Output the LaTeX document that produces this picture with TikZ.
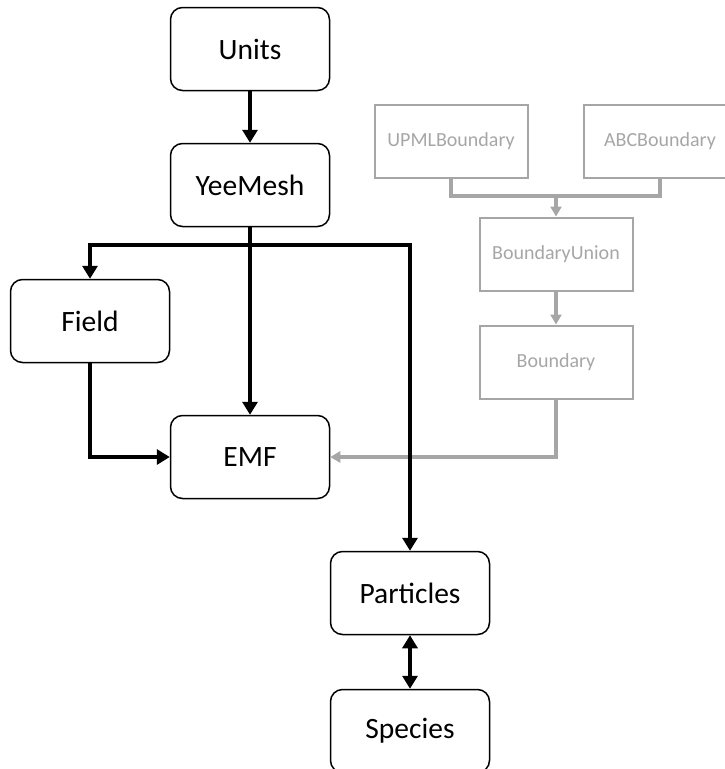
\documentclass[tikz,border=0pt]{standalone}
\usepackage{fontspec}
\setmainfont{Carlito}
\usetikzlibrary{arrows.meta}

\tikzset{
  cls/.style={draw, rounded corners=12pt, line width=1.5pt,
    minimum width=159pt, minimum height=83pt,
    font=\fontsize{29.5}{34}\selectfont},
  bnd/.style={draw=bndgray, line width=2pt, text=bndgray,
    minimum width=153pt, minimum height=73pt,
    font=\fontsize{20}{24}\selectfont},
  dep/.style={line width=4pt, -{Triangle[width=15pt,length=13pt]}},
  bdep/.style={draw=bndgray, line width=3.5pt, -{Triangle[width=11pt,length=10pt]}}
}
\definecolor{bndgray}{HTML}{A6A6A6}

\begin{document}
\begin{tikzpicture}[x=1pt, y=-1pt]
    \useasboundingbox (0,0) rectangle (725,769);
    % main classes
    \node (units) [cls] at (250,49) {Units};
    \node (yee) [cls] at (250,185) {YeeMesh};
    \node (field) [cls] at (90,321) {Field};
    \node (emf) [cls] at (250,457) {EMF};
    \node (part) [cls] at (410,593) {Particles};
    \node (spec) [cls] at (410,731) {Species};
    % boundaries
    \node (upml) [bnd] at (451,141) {UPMLBoundary};
    \node (abc) [bnd] at (660,141) {ABCBoundary};
    \node (bunion) [bnd] at (556,254) {BoundaryUnion};
    \node (bound) [bnd] at (556,362) {Boundary};
    \coordinate (bjoin) at (556,196);
    \coordinate (split) at (250,245);

    \draw[bdep, -] (upml.south) |- (bjoin) -| (abc.south);
    \draw[bdep] (bjoin) -- (bunion);
    \draw[bdep] (bunion) -- (bound);
    \draw[bdep] (bound.south) |- (emf.east);

    \draw[dep] (units) -- (yee);
    \draw[dep] (yee) -- (emf);
    \draw[dep] (split) -| (field);
    \draw[dep] (split) -| (part);
    \draw[dep] (field.south) |- (emf.west);
    \draw[dep, {Triangle[width=15pt,length=13pt]}-{Triangle[width=15pt,length=13pt]}] (part) -- (spec);
\end{tikzpicture}
\end{document}
